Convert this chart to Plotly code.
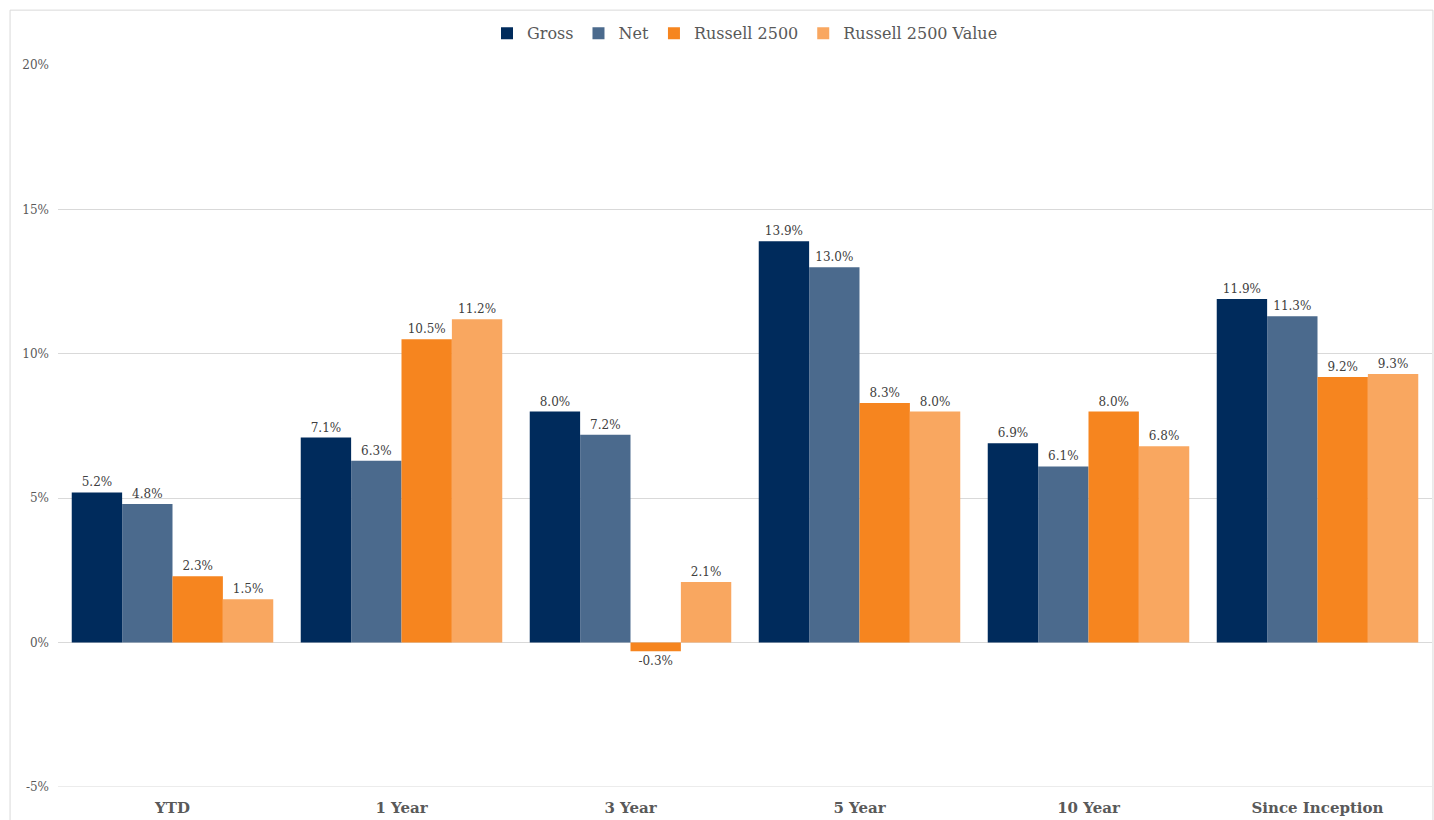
import plotly.graph_objects as go

categories = ["YTD", "1 Year", "3 Year", "5 Year", "10 Year", "Since Inception"]
gross = [5.2, 7.1, 8.0, 13.9, 6.9, 11.9]
net = [4.8, 6.3, 7.2, 13.0, 6.1, 11.3]
r2500 = [2.3, 10.5, -0.3, 8.3, 8.0, 9.2]
r2500v = [1.5, 11.2, 2.1, 8.0, 6.8, 9.3]
y_ticks = [-5, 0, 5, 10, 15, 20]
y_tick_labels = ["-5%", "0%", "5%", "10%", "15%", "20%"]

series = [
    ("Gross", gross, "#002B5C"),
    ("Net", net, "#4B6A8D"),
    ("Russell 2500", r2500, "#F6851F"),
    ("Russell 2500 Value", r2500v, "#F9A760"),
]

FONT = "DejaVu Serif"
fig = go.Figure()
for name, vals, col in series:
    fig.add_trace(go.Bar(
        x=categories, y=vals, name=name, marker=dict(color=col, line=dict(width=0)),
        text=[f"{v:.1f}%" for v in vals], textposition="outside",
        textfont=dict(family=FONT, size=12, color="#404040"),
        cliponaxis=False, hoverinfo="skip",
    ))

fig.update_layout(
    width=1434, height=820,
    barmode="group", bargap=0.12, bargroupgap=0,
    plot_bgcolor="white", paper_bgcolor="white",
    margin=dict(l=58, r=2, t=65, b=33),
    font=dict(family=FONT, color="#595959"),
    legend=dict(orientation="h", x=0.5, xanchor="center", y=1.044, yanchor="middle",
                font=dict(family=FONT, size=16, color="#595959"), traceorder="normal",
                itemwidth=30, tracegroupgap=0),
)
fig.update_xaxes(
    tickfont=dict(family=FONT, size=15, color="#595959", weight="bold"),
    showline=False, showgrid=False, ticks="", ticklabelstandoff=10,
)
fig.update_yaxes(
    range=[-5, 20], tickvals=y_ticks, ticktext=y_tick_labels,
    tickfont=dict(family=FONT, size=12, color="#595959"),
    showgrid=True, gridcolor="#D9D9D9", gridwidth=1,
    zeroline=True, zerolinecolor="#D9D9D9", zerolinewidth=1,
    showline=False, ticks="", ticklabelstandoff=8,
)
fig.add_shape(type="line", xref="paper", yref="y", x0=0, x1=1, y0=-5, y1=-5,
              line=dict(color="#D9D9D9", width=1), layer="below")
fig.add_shape(type="rect", xref="paper", yref="paper",
              x0=-0.0349, x1=1.0007, y0=-0.06, y1=1.076,
              line=dict(color="#D9D9D9", width=1), fillcolor="rgba(0,0,0,0)", layer="below")
fig.write_html("out.html")
